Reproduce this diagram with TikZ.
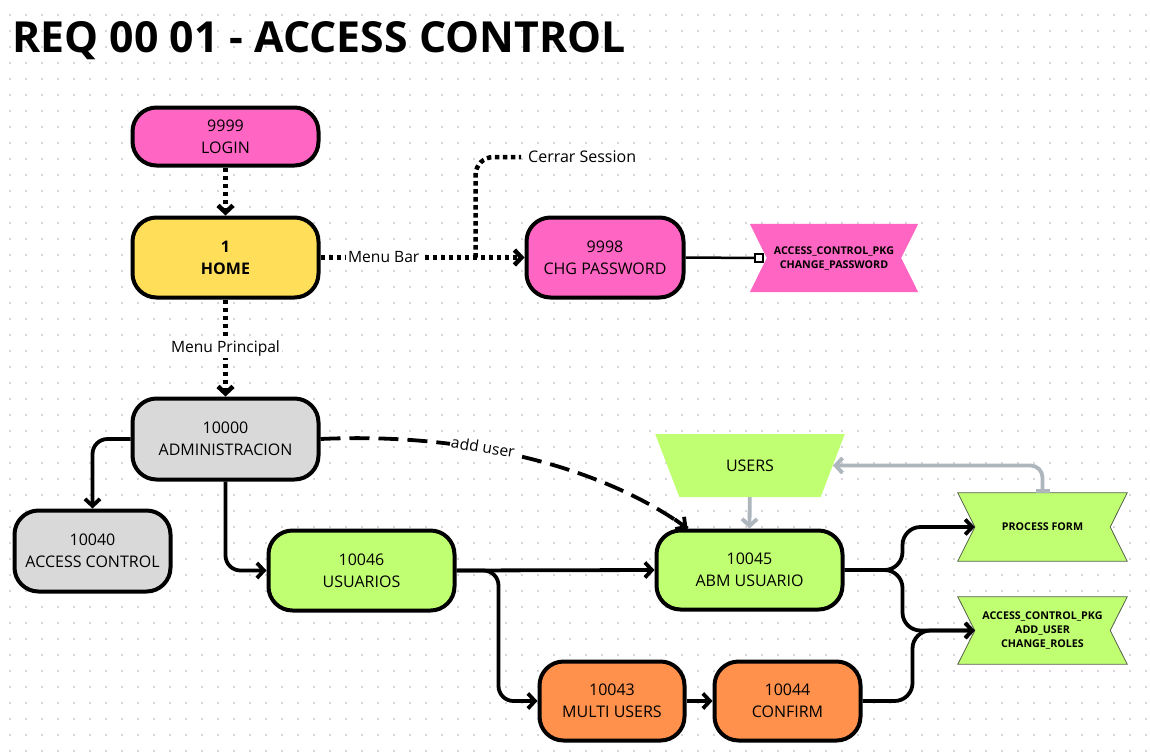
\documentclass[tikz,border=0pt]{standalone}
\usepackage{fontspec}
\setmainfont{Open Sans}
\usetikzlibrary{arrows.meta,shapes.geometric,calc}

\definecolor{pinkc}{HTML}{FF66C4}
\definecolor{yellowc}{HTML}{FFDE59}
\definecolor{grayc}{HTML}{D9D9D9}
\definecolor{greenc}{HTML}{C1FF72}
\definecolor{orangec}{HTML}{FF914D}
\definecolor{linkgray}{HTML}{ADB5BD}
\definecolor{dotc}{HTML}{C8C8CE}
\definecolor{outlinec}{HTML}{55604A}

\pgfdeclarelayer{grid}
\pgfdeclarelayer{back}
\pgfsetlayers{grid,back,main}

\tikzset{
  box/.style={draw=black, line width=4pt, rounded corners=24pt, align=center,
    inner sep=0pt, text=black, font=\fontsize{16}{22}\selectfont},
  banner/.style={minimum width=168pt, minimum height=68pt, inner sep=0pt,
    align=center, font=\bfseries\fontsize{10.7}{14}\selectfont},
  tip/.style={-{Straight Barb[length=7pt,width=15pt]}},
  link/.style={draw=black, line width=3.8pt, tip},
  dotlink/.style={link, line width=4.5pt, dash pattern=on 4.5pt off 3.5pt},
  graylink/.style={draw=linkgray, line width=3.8pt, tip},
  lbl/.style={fill=white, inner sep=2pt, text=black,
    font=\fontsize{15.6}{18}\selectfont},
}

% notched ribbon drawn behind a named banner node
\newcommand{\ribbon}[3]{%
  \begin{pgfonlayer}{back}
    \path[#2] (#1.north west) -- (#1.north east) -- ($(#1.east)+(-#3,0)$)
      -- (#1.south east) -- (#1.south west) -- ($(#1.west)+(#3,0)$) -- cycle;
  \end{pgfonlayer}}

\begin{document}
\begin{tikzpicture}[x=1pt,y=-1pt]
\useasboundingbox (0,0) rectangle (1150,753);

% dotted canvas
\begin{pgfonlayer}{grid}
  \fill[white] (0,0) rectangle (1150,753);
  \foreach \i in {0,...,71}{
    \foreach \j in {0,...,46}{
      \fill[dotc] (10+16*\i,15+16*\j) circle (1.1);
    }
  }
\end{pgfonlayer}

% title
\node[anchor=base west, inner sep=0pt, font=\bfseries\fontsize{42.8}{50}\selectfont]
  (title) at (12,52) {REQ 00 01 - ACCESS CONTROL};

% screens
\node[box, fill=pinkc,   minimum width=186pt, minimum height=58pt] (login)   at (225.5,136.5) {9999\\LOGIN};
\node[box, fill=yellowc, minimum width=186pt, minimum height=80pt, font=\bfseries\fontsize{16}{22}\selectfont] (home) at (225.5,257.5) {1\\HOME};
\node[box, fill=pinkc,   minimum width=157pt, minimum height=80pt] (chg)     at (605,257.5) {9998\\CHG PASSWORD};
\node[box, fill=grayc,   minimum width=186pt, minimum height=81pt] (admin)   at (225.5,439) {10000\\ADMINISTRACION};
\node[box, fill=grayc,   minimum width=156pt, minimum height=81pt] (acc)     at (92.5,551) {10040\\ACCESS CONTROL};
\node[box, fill=greenc,  minimum width=186pt, minimum height=80pt] (usu)     at (361.5,570.5) {10046\\USUARIOS};
\node[box, fill=greenc,  minimum width=186pt, minimum height=79pt] (abm)     at (749.5,570) {10045\\ABM USUARIO};
\node[box, fill=orangec, minimum width=145pt, minimum height=79pt] (multi)   at (612,701) {10043\\MULTI USERS};
\node[box, fill=orangec, minimum width=146pt, minimum height=79pt] (confirm) at (787.5,701) {10044\\CONFIRM};

% data store
\node[trapezium, shape border rotate=180, trapezium left angle=55,
  trapezium right angle=55, trapezium stretches=true, minimum width=190pt,
  minimum height=63pt, inner sep=0pt, fill=greenc, text=black,
  font=\fontsize{16}{22}\selectfont] (users) at (750,465.5) {USERS};

% procedures
\node[banner] (pw) at (834,258) {ACCESS\_CONTROL\_PKG\\CHANGE\_PASSWORD};
\ribbon{pw}{fill=pinkc}{17}
\node[banner, minimum width=169pt] (pf) at (1042.5,527) {PROCESS FORM};
\ribbon{pf}{fill=greenc, draw=outlinec, line width=0.8pt}{17}
\node[banner, minimum width=169pt, minimum height=67pt] (au) at (1042.5,630.5) {ACCESS\_CONTROL\_PKG\\ADD\_USER\\CHANGE\_ROLES};
\ribbon{au}{fill=greenc, draw=outlinec, line width=0.8pt}{17}

\coordinate (pfin) at ($(pf.west)+(17,0)$);
\coordinate (auin) at ($(au.west)+(17,0)$);
\coordinate (abmin) at ($(abm.north west)+(33,0)$);

\node[anchor=west, inner sep=0pt, text=black, font=\fontsize{16}{18}\selectfont]
  (cerrar) at (528,157) {Cerrar Session};

% navigation
\draw[dotlink] (login.south) -- (home.north);
\draw[dotlink] (home.east) -- node[lbl, pos=0.31] {Menu Bar} (chg.west);
\coordinate (branch) at ($(home.east)!0.76!(chg.west)$);
\draw[line width=4.5pt, dash pattern=on 4.5pt off 3.5pt, rounded corners=18pt]
  (branch) |- ($(cerrar.west)+(-7,0)$);
\draw[dotlink] (home.south) -- node[lbl, pos=0.5] {Menu Principal} (admin.north);

\draw[link, rounded corners=15pt] (admin.west) -| (acc.north);
\draw[link, rounded corners=15pt] (admin.south) |- (usu.west);
\draw[line width=3.8pt, dash pattern=on 20pt off 9pt]
  (admin.east) .. controls (470,432) and (605,468) .. (abmin);
\draw[link] ($(abmin)+(-13,-9.3)$) -- (abmin);
\node[lbl, rotate=-9, inner sep=1pt] (addlbl) at (483,447) {add user};

\draw[link] (usu.east) -- (abm.west);
\draw[link, rounded corners=15pt] (usu.east) -- ($(usu.east)+(42,0)$) |- (multi.west);
\draw[link] (multi.east) -- (confirm.west);

\draw[link, rounded corners=18pt] (abm.east) -- ($(abm.east)+(58,0)$) |- (pfin);
\draw[link, rounded corners=18pt] (abm.east) -- ($(abm.east)+(58,0)$) |- (auin);
\draw[link, rounded corners=18pt] (confirm.east) -- ($(confirm.east)+(50,0)$) |- (auin);

\draw[graylink] (users) -- (abm.north);
\draw[graylink, {Bar[width=14pt]}-{Straight Barb[length=7pt,width=15pt]}, rounded corners=12pt]
  (pf.north) |- (users);

% password procedure link
\draw[line width=2.5pt] (chg.east) -- ($(pw.west)+(9,0)$)
  node[draw=black, fill=white, line width=1.8pt, minimum size=8pt, inner sep=0pt] (sq) {};
\end{tikzpicture}
\end{document}
